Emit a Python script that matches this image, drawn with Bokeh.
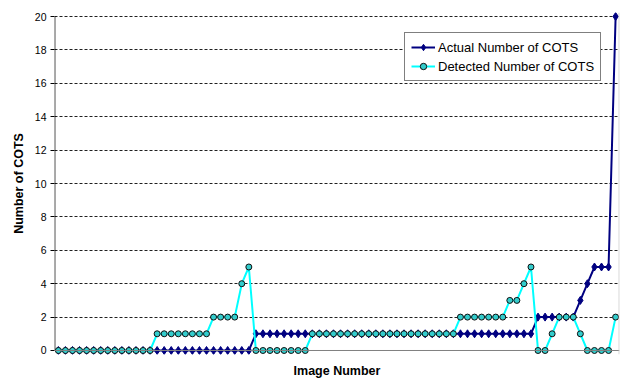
from bokeh.plotting import figure
from bokeh.models import Range1d, FixedTicker, Legend, LegendItem, Span, ColumnDataSource
from bokeh.embed import file_html
from bokeh.resources import INLINE

# ---- data ----
image_number = [1, 2, 3, 4, 5, 6, 7, 8, 9, 10,
                11, 12, 13, 14, 15, 16, 17, 18, 19, 20,
                21, 22, 23, 24, 25, 26, 27, 28, 29, 30,
                31, 32, 33, 34, 35, 36, 37, 38, 39, 40,
                41, 42, 43, 44, 45, 46, 47, 48, 49, 50,
                51, 52, 53, 54, 55, 56, 57, 58, 59, 60,
                61, 62, 63, 64, 65, 66, 67, 68, 69, 70,
                71, 72, 73, 74, 75, 76, 77, 78, 79, 80]

actual_cots = [0, 0, 0, 0, 0, 0, 0, 0, 0, 0,
               0, 0, 0, 0, 0, 0, 0, 0, 0, 0,
               0, 0, 0, 0, 0, 0, 0, 0, 1, 1,
               1, 1, 1, 1, 1, 1, 1, 1, 1, 1,
               1, 1, 1, 1, 1, 1, 1, 1, 1, 1,
               1, 1, 1, 1, 1, 1, 1, 1, 1, 1,
               1, 1, 1, 1, 1, 1, 1, 1, 2, 2,
               2, 2, 2, 2, 3, 4, 5, 5, 5, 20]

detected_cots = [0, 0, 0, 0, 0, 0, 0, 0, 0, 0,
                 0, 0, 0, 0, 1, 1, 1, 1, 1, 1,
                 1, 1, 2, 2, 2, 2, 4, 5, 0, 0,
                 0, 0, 0, 0, 0, 0, 1, 1, 1, 1,
                 1, 1, 1, 1, 1, 1, 1, 1, 1, 1,
                 1, 1, 1, 1, 1, 1, 1, 2, 2, 2,
                 2, 2, 2, 2, 3, 3, 4, 5, 0, 0,
                 1, 2, 2, 2, 1, 0, 0, 0, 0, 2]

y_ticks = [0, 2, 4, 6, 8, 10, 12, 14, 16, 18, 20]
grid_ticks = [2, 4, 6, 8, 10, 12, 14, 16, 18, 20]

series_names = ["Actual Number of COTS", "Detected Number of COTS"]

src = ColumnDataSource(dict(x=image_number, actual=actual_cots, detected=detected_cots))

FONT = "Liberation Sans"

p = figure(width=631, height=381, output_backend="svg", toolbar_location=None,
           x_range=Range1d(0.45, 80.55), y_range=Range1d(-0.24, 20.24),
           min_border_left=54, min_border_right=12, min_border_top=12, min_border_bottom=27)
p.background_fill_color = "white"
p.border_fill_color = "white"
p.outline_line_color = None

# y axis
p.yaxis.ticker = FixedTicker(ticks=y_ticks)
p.yaxis.minor_tick_line_color = None
p.yaxis.major_tick_in = 0
p.yaxis.major_tick_out = 4
p.yaxis.major_tick_line_color = "black"
p.yaxis.axis_line_color = None
p.yaxis.major_label_standoff = 4
p.yaxis.major_label_text_font = FONT
p.yaxis.major_label_text_font_size = "10.5px"
p.yaxis.major_label_text_color = "black"
p.yaxis.axis_label = "Number of COTS"
p.yaxis.axis_label_text_font = FONT
p.yaxis.axis_label_text_font_style = "bold"
p.yaxis.axis_label_text_font_size = "12.5px"
p.yaxis.axis_label_text_color = "black"
p.yaxis.axis_label_standoff = 6

# x axis (no ticks)
p.xaxis.ticker = FixedTicker(ticks=[])
p.xaxis.minor_tick_line_color = None
p.xaxis.major_tick_line_color = None
p.xaxis.major_tick_out = 0
p.xaxis.major_label_standoff = 0
p.xaxis.major_label_text_font_size = "0px"
p.xaxis.axis_line_color = None
p.xaxis.axis_label = "Image Number"
p.xaxis.axis_label_text_font = FONT
p.xaxis.axis_label_text_font_style = "bold"
p.xaxis.axis_label_text_font_size = "12.5px"
p.xaxis.axis_label_text_color = "black"
p.xaxis.axis_label_standoff = 9

# grids
p.xgrid.grid_line_color = None
p.ygrid.ticker = FixedTicker(ticks=grid_ticks)
p.ygrid.grid_line_color = "#202020"
p.ygrid.grid_line_dash = "3 2"
p.ygrid.grid_line_width = 1

# axis lines / plot border
p.add_layout(Span(location=0, dimension="width", line_color="#808080", line_width=1))
p.add_layout(Span(location=80.5, dimension="height", line_color="#c8c8c8", line_width=1))
p.segment(x0=[0.5], y0=[0], x1=[0.5], y1=[20], line_color="black", line_width=1)

# series
l1 = p.line("x", "actual", source=src, line_color="#000080", line_width=2)
s1 = p.scatter("x", "actual", source=src, marker="diamond", size=8,
               fill_color="#000080", line_color="#000080", line_width=1)
l2 = p.line("x", "detected", source=src, line_color="#00FFFF", line_width=2)
s2 = p.scatter("x", "detected", source=src, marker="circle", size=6,
               fill_color="#33CCCC", line_color="#101010", line_width=1)

legend = Legend(items=[LegendItem(label=series_names[0], renderers=[l1, s1]),
                       LegendItem(label=series_names[1], renderers=[l2, s2])],
                location=(350, 273), orientation="vertical",
                border_line_color="black", border_line_width=1,
                background_fill_color="white", background_fill_alpha=1,
                padding=6, spacing=3, margin=0,
                label_height=16, glyph_height=16, glyph_width=24, label_standoff=3,
                label_text_font=FONT, label_text_font_size="13px", label_text_color="black")
p.add_layout(legend)

open("out.html", "w").write(file_html(p, INLINE))
